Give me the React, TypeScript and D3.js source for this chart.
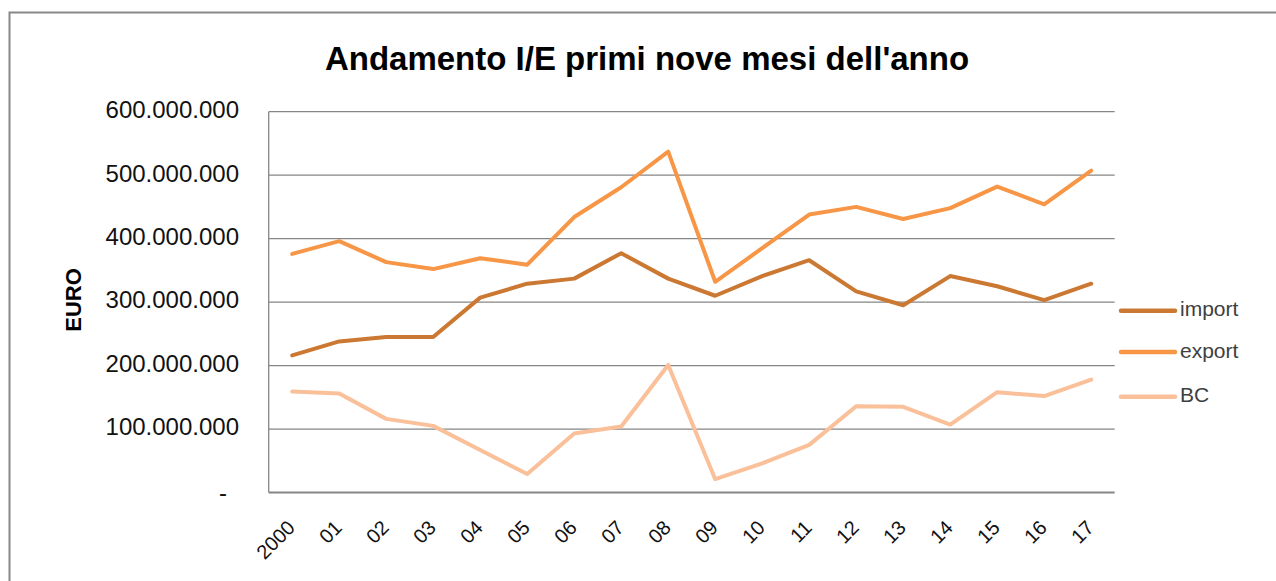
import React from "react";
import * as d3 from "d3";

const categories = ["2000", "01", "02", "03", "04", "05", "06", "07", "08", "09", "10", "11", "12", "13", "14", "15", "16", "17"];
const importValues = [216e6, 238e6, 245e6, 245e6, 307e6, 329e6, 337e6, 377e6, 337e6, 310e6, 341e6, 366e6, 317e6, 295e6, 341e6, 325e6, 303e6, 329e6];
const exportValues = [376e6, 396e6, 363e6, 352e6, 369e6, 359e6, 434e6, 481e6, 537e6, 332e6, 385e6, 438e6, 450e6, 431e6, 448e6, 482e6, 454e6, 507e6];
const bcValues = [159e6, 156e6, 116e6, 105e6, 67e6, 29e6, 93e6, 104e6, 201e6, 21e6, 46e6, 75e6, 136e6, 135e6, 107e6, 158e6, 152e6, 178e6];
const yTicks = [0, 100e6, 200e6, 300e6, 400e6, 500e6, 600e6];
const seriesNames = ["import", "export", "BC"];
const seriesColors = ["#CB7832", "#F79646", "#F9C09A"];

const W = 1276;
const H = 581;
const plotLeft = 268.7;
const plotRight = 1114.7;
const plotTop = 111.7;
const plotBottom = 492.5;

const locale = d3.formatLocale({ decimal: ",", thousands: ".", grouping: [3], currency: ["€", ""] });
const fmt = locale.format(",d");

export default function App() {
  const x = d3.scalePoint<string>().domain(categories).range([plotLeft, plotRight]).padding(0.5);
  const y = d3.scaleLinear().domain([0, 600e6]).range([plotBottom, plotTop]);
  const line = d3
    .line<number>()
    .x((_, i) => x(categories[i]) as number)
    .y((d) => y(d));
  const series = [importValues, exportValues, bcValues];
  const legendY = [310.7, 352, 396.7];

  return (
    <svg width={W} height={H} style={{ position: "absolute", left: 0, top: 0, background: "#fff" }} fontFamily="'Liberation Sans', Arial, sans-serif">
      <rect x={0} y={0} width={W} height={H} fill="#fff" />
      <rect x={9.5} y={12.5} width={1400} height={700} fill="none" stroke="#888" strokeWidth={2} />
      <text x={647} y={70} textAnchor="middle" fontSize={33} fontWeight="bold" fill="#000">
        Andamento I/E primi nove mesi dell'anno
      </text>
      {/* gridlines */}
      {yTicks.map((t) => (
        <line key={t} x1={plotLeft} x2={plotRight} y1={y(t)} y2={y(t)} stroke="#868686" strokeWidth={t === 0 ? 2 : 1.3} />
      ))}
      <line x1={plotLeft} x2={plotLeft} y1={plotTop} y2={plotBottom} stroke="#868686" strokeWidth={1.3} />
      {/* y tick labels */}
      {yTicks.map((t) => (
        <text key={"l" + t} x={t === 0 ? 227 : 239} y={t === 0 ? y(t) + 2 : y(t)} textAnchor="end" dominantBaseline="middle" fontSize={24} fill="#111">
          {t === 0 ? "-" : fmt(t)}
        </text>
      ))}
      <text transform={`translate(81,300) rotate(-90)`} textAnchor="middle" fontSize={22} fontWeight="bold" fill="#000">
        EURO
      </text>
      {/* x labels */}
      {categories.map((c) => (
        <text key={c} transform={`translate(${(x(c) as number) + 4},529) rotate(-45)`} textAnchor="end" fontSize={20} fill="#111">
          {c}
        </text>
      ))}
      {/* series */}
      {series.map((s, i) => (
        <path key={seriesNames[i]} d={line(s) as string} fill="none" stroke={seriesColors[i]} strokeWidth={4} strokeLinejoin="round" strokeLinecap="round" />
      ))}
      {/* legend */}
      {seriesNames.map((n, i) => (
        <g key={"lg" + n}>
          <line x1={1121} x2={1175} y1={legendY[i]} y2={legendY[i]} stroke={seriesColors[i]} strokeWidth={4.5} strokeLinecap="round" />
          <text x={1180} y={legendY[i]} dominantBaseline="middle" fontSize={21} fill="#404040">
            {n}
          </text>
        </g>
      ))}
    </svg>
  );
}
